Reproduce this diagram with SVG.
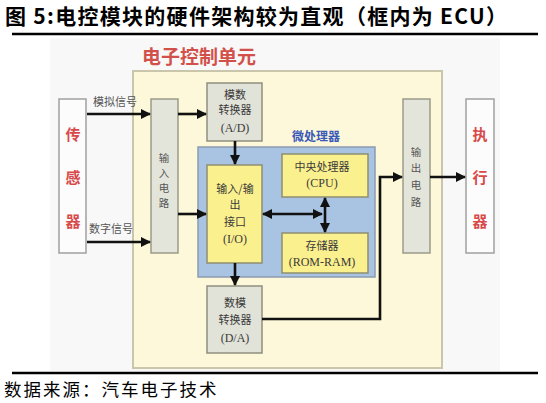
<svg xmlns="http://www.w3.org/2000/svg" width="546" height="403" viewBox="0 0 546 403">
<defs>
<marker id="ah" markerUnits="userSpaceOnUse" markerWidth="10" markerHeight="10" refX="9" refY="5" orient="auto-start-reverse">
<path d="M0,0 L10,5 L0,10 z" fill="#111"/>
</marker>
<style>
.t{font-family:"Noto Sans CJK SC","Liberation Serif",serif;}
.box{font-family:"Noto Sans CJK SC","Liberation Serif",serif;font-size:11px;fill:#3a3a3a;text-anchor:middle;}
.lat{font-family:"Liberation Serif",serif;font-size:12px;fill:#3a3a3a;text-anchor:middle;}
.red{font-family:"Noto Sans CJK SC",serif;font-size:15px;font-weight:bold;fill:#d84a4a;text-anchor:middle;}
.cv{font-family:"Noto Sans CJK SC",serif;font-size:10.5px;fill:#555;text-anchor:middle;}
.sig{font-family:"Noto Sans CJK SC",serif;font-size:11px;fill:#555;}
.ln{stroke:#111;stroke-width:2.6;fill:none;}
.gray{fill:#e1e2d8;stroke:#8e8e80;stroke-width:1.5;}
.yel{fill:#fbf08e;stroke:#8e8e70;stroke-width:1.5;}
.wht{fill:#fcfcfc;stroke:#a0a0a0;stroke-width:1.5;}
.circ{fill:#e3e5da;stroke:#9a9a88;stroke-width:1.5;}
</style>
</defs>
<rect width="546" height="403" fill="#fff"/>
<text class="t" x="5" y="24" font-size="21" font-weight="bold" fill="#000" textLength="502" lengthAdjust="spacing">图 5:电控模块的硬件架构较为直观（框内为 ECU）</text>
<line x1="12" y1="34" x2="538" y2="34" stroke="#000" stroke-width="2.5"/>
<rect x="50" y="38" width="450" height="333" fill="#f8f8f8"/>
<text class="t" x="142" y="64" font-size="19" font-weight="bold" fill="#d2504a">电子控制单元</text>
<g id="ecu"><rect x="133" y="71" width="309" height="297" fill="#fcf8d9" stroke="#c9c6ac" stroke-width="2"/></g>
<g id="sensor"><rect class="wht" x="59" y="99" width="27" height="154"/>
<text class="red" x="73" y="140">传</text><text class="red" x="73" y="183">感</text><text class="red" x="73" y="227">器</text></g>
<g id="actuator"><rect class="wht" x="466" y="99" width="28" height="154"/>
<text class="red" x="480" y="140">执</text><text class="red" x="480" y="183">行</text><text class="red" x="480" y="227">器</text></g>
<g id="input"><rect class="circ" x="151" y="99" width="27" height="154"/>
<text class="cv" x="164" y="162">输</text><text class="cv" x="164" y="177">入</text><text class="cv" x="164" y="192">电</text><text class="cv" x="164" y="207">路</text></g>
<g id="output"><rect class="circ" x="403" y="99" width="27" height="154"/>
<text class="cv" x="416" y="156">输</text><text class="cv" x="416" y="172">出</text><text class="cv" x="416" y="189">电</text><text class="cv" x="416" y="206">路</text></g>
<g id="ad"><rect class="gray" x="207" y="83" width="55" height="58"/>
<text class="box" x="235" y="99">模数</text><text class="box" x="235" y="114">转换器</text><text class="lat" x="235" y="132">(A/D)</text></g>
<g id="micro"><rect x="198" y="147" width="177" height="130" fill="#a9c4e3" stroke="#8b9bb0" stroke-width="1.5"/>
<text x="316" y="141" font-family="Noto Sans CJK SC,serif" font-size="12" font-weight="bold" fill="#3a58b8" text-anchor="middle">微处理器</text></g>
<g id="io"><rect class="yel" x="207" y="165" width="55" height="98"/>
<text class="box" x="235" y="193">输入/输</text><text class="box" x="235" y="209">出</text><text class="box" x="235" y="226">接口</text><text class="lat" x="235" y="243">(I/O)</text></g>
<g id="cpu"><rect class="yel" x="282" y="154" width="86" height="43"/>
<text class="box" x="322" y="171">中央处理器</text><text class="lat" x="322" y="187">(CPU)</text></g>
<g id="mem"><rect class="yel" x="282" y="233" width="86" height="40"/>
<text class="box" x="322" y="250">存储器</text><text class="lat" x="322" y="266">(ROM-RAM)</text></g>
<g id="da"><rect class="gray" x="207" y="286" width="55" height="67"/>
<text class="box" x="235" y="307">数模</text><text class="box" x="235" y="324">转换器</text><text class="lat" x="235" y="342">(D/A)</text></g>
<text class="sig" x="93" y="106">模拟信号</text>
<text class="sig" x="89" y="233">数字信号</text>
<g id="connectors">
<line class="ln" x1="87" y1="114" x2="150" y2="114" marker-end="url(#ah)"/>
<line class="ln" x1="87" y1="242" x2="150" y2="242" marker-end="url(#ah)"/>
<line class="ln" x1="178" y1="114" x2="206" y2="114" marker-end="url(#ah)"/>
<line class="ln" x1="178" y1="214" x2="206" y2="214" marker-end="url(#ah)"/>
<line class="ln" x1="235" y1="141" x2="235" y2="164" marker-end="url(#ah)"/>
<line class="ln" x1="235" y1="263" x2="235" y2="285" marker-end="url(#ah)"/>
<line class="ln" x1="263" y1="214" x2="322" y2="214" marker-start="url(#ah)" marker-end="url(#ah)"/>
<line class="ln" x1="325" y1="198" x2="325" y2="232" marker-start="url(#ah)" marker-end="url(#ah)"/>
<polyline class="ln" points="262,319 380,319 380,177 402,177" marker-end="url(#ah)"/>
<line class="ln" x1="430" y1="177" x2="465" y2="177" marker-end="url(#ah)"/>
</g>
<line x1="12" y1="373" x2="538" y2="373" stroke="#000" stroke-width="2.5"/>
<text class="t" x="4" y="396" font-size="17.5" fill="#000" letter-spacing="2">数据来源：汽车电子技术</text>
</svg>
